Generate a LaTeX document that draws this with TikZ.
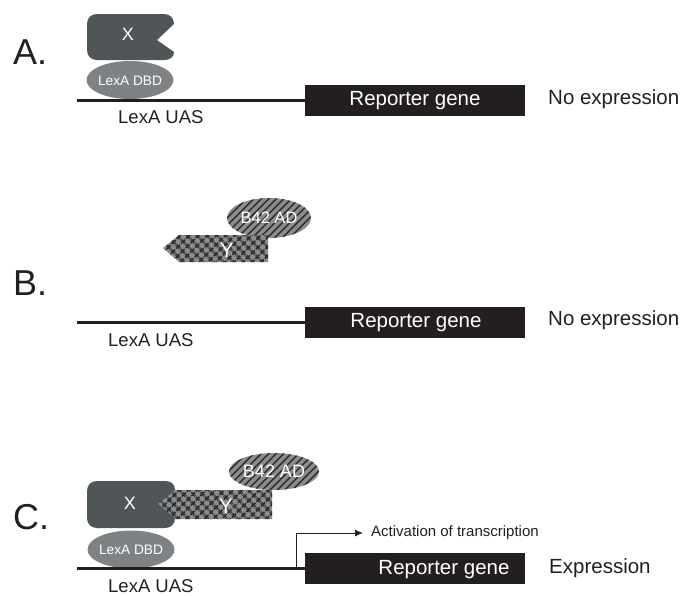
\documentclass[tikz,border=0pt]{standalone}
\usepackage{fontspec}
\setmainfont{Liberation Sans}
\usetikzlibrary{patterns.meta,arrows.meta,shapes.geometric}
\definecolor{xgray}{HTML}{505557}
\definecolor{dbdgray}{HTML}{7F8284}
\definecolor{patbg}{HTML}{8A8C8E}
\definecolor{patline}{HTML}{2A2A2C}
\definecolor{ink}{HTML}{231F20}
\newcommand{\fsz}[1]{\fontsize{#1}{#1}\selectfont}
\begin{document}
\begin{tikzpicture}[x=1pt,y=-1pt,
  dna/.style={line width=3pt, draw=ink},
  reporter/.style={rectangle, fill=ink, minimum width=220pt, minimum height=31pt, inner sep=0pt},
  reptext/.style={inner sep=0pt, text=white, font=\fsz{20.5}},
  label/.style={inner sep=0pt, text=ink, font=\fsz{20.5}, anchor=west},
  uas/.style={inner sep=0pt, text=ink, font=\fsz{18.5}, anchor=west},
  panel/.style={inner sep=0pt, text=ink, font=\fsz{36}, anchor=west},
  dbd/.style={ellipse, fill=dbdgray, minimum width=87pt, minimum height=38pt, inner sep=0pt, text=white, font=\fsz{13.7}},
  adbox/.style={ellipse, preaction={fill=patbg}, pattern={Lines[angle=45,distance=5.3pt,line width=1.4pt]}, pattern color=patline, inner sep=0pt, text=white},
  yfill/.style={preaction={fill=patbg}, pattern={Hatch[angle=45,distance=6.4pt,line width=2pt]}, pattern color=patline},
  wtext/.style={inner sep=0pt, text=white}
]
\useasboundingbox (0,0) rectangle (680,595);

% ---------- Panel A ----------
\node[panel] (pa) at (13,52.5) {A.};
\node[dbd] (dbdA) at (130,80) {};
\fill[xgray] (97,14) -- (164,14) .. controls (170,14) and (174,18) .. (174,24) -- (157,40) -- (174,52) .. controls (174,57) and (170,60) .. (164,60) -- (97,60) .. controls (91,60) and (87,56) .. (87,50) -- (87,24) .. controls (87,18) and (91,14) .. (97,14) -- cycle;
\node[wtext, font=\fsz{18}] (xA) at (128,34) {X};
\node[wtext, font=\fsz{13.7}] (dbdtA) at (130,81) {LexA DBD};
\node[reporter] (repA) at (415,100.5) {};
\node[reptext] (reptA) at (415,101) {Reporter gene};
\coordinate (startA) at (77,100);
\draw[dna] (startA) -- (startA -| repA.west);
\node[uas] (uasA) at (118,117) {LexA UAS};
\node[label] (noA) at (548,99) {No expression};

% ---------- Panel B ----------
\node[panel] (pb) at (13,283) {B.};
\node[adbox, minimum width=84pt, minimum height=40pt, font=\fsz{16.5}] (adB) at (269,218) {B42 AD};
\fill[yfill] (163,248) -- (179,235) -- (268,235) -- (268,262) -- (179,262) -- cycle;
\node[wtext, font=\fsz{21}] (yB) at (227,250) {Y};
\node[reporter] (repB) at (415,322) {};
\node[reptext] (reptB) at (416,322.5) {Reporter gene};
\coordinate (startB) at (77,322);
\draw[dna] (startB) -- (startB -| repB.west);
\node[uas] (uasB) at (108,340) {LexA UAS};
\node[label] (noB) at (548,320) {No expression};

% ---------- Panel C ----------
\node[panel] (pc) at (13,517.5) {C.};
\node[adbox, minimum width=90pt, minimum height=37pt, font=\fsz{18}] (adC) at (274,471.5) {B42 AD};
\fill[yfill] (158,504) -- (172,490) -- (272,490) -- (272,519) -- (172,519) -- cycle;
\node[wtext, font=\fsz{21}] (yC) at (226,506) {Y};
\node[dbd] (dbdC) at (131,549.5) {};
\fill[xgray] (97,481) -- (165,481) .. controls (171,481) and (175,484) .. (175,490) -- (158,504) -- (175,518) .. controls (175,524) and (171,528) .. (165,528) -- (97,528) .. controls (91,528) and (87,524) .. (87,518) -- (87,491) .. controls (87,485) and (91,481) .. (97,481) -- cycle;
\node[wtext, font=\fsz{18}] (xC) at (130,503) {X};
\node[wtext, font=\fsz{13.7}] (dbdtC) at (131,550) {LexA DBD};
\node[reporter] (repC) at (415,568.5) {};
\node[reptext] (reptC) at (444,569.5) {Reporter gene};
\coordinate (startC) at (77,568);
\draw[dna] (startC) -- (startC -| repC.west);
\coordinate (tss) at (296,568);
\node[inner sep=0pt, text=ink, font=\fsz{15}, anchor=west] (act) at (371,533) {Activation of transcription};
\draw[line width=0.9pt, draw=ink, -{Latex[length=8pt,width=7pt]}, shorten >=8pt] (tss) |- (act.west);
\node[uas] (uasC) at (108,586) {LexA UAS};
\node[label] (exC) at (549,568) {Expression};
\end{tikzpicture}
\end{document}
